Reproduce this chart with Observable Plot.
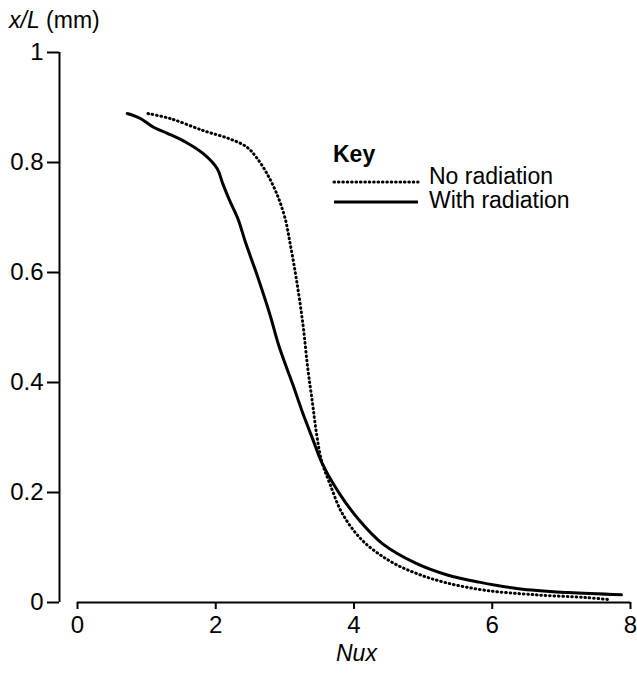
<!DOCTYPE html>
<html><head><meta charset="utf-8">
<script src="https://cdn.jsdelivr.net/npm/d3@7"></script>
<script src="https://cdn.jsdelivr.net/npm/@observablehq/plot@0.6"></script>
<style>
body{margin:0;background:#fff;font-family:"Liberation Sans",Arial,Helvetica,sans-serif;}
#wrap{position:relative;width:637px;height:674px;}
.t{position:absolute;color:#000;font-size:23px;white-space:nowrap;line-height:1;}
</style></head><body>
<div id="wrap"></div>
<script>
// "No radiation" (dotted)
const noRadNux = [1.02, 1.34, 1.82, 2.20, 2.45, 2.59, 2.74, 2.88, 3.00, 3.08, 3.17, 3.26, 3.33, 3.40, 3.46, 3.53, 3.65, 3.83, 4.12, 4.51, 4.90, 5.33, 5.91, 6.63, 7.35, 7.72];
const noRadXL  = [0.889, 0.880, 0.858, 0.843, 0.828, 0.809, 0.780, 0.744, 0.700, 0.650, 0.585, 0.507, 0.427, 0.362, 0.305, 0.258, 0.216, 0.162, 0.113, 0.076, 0.053, 0.036, 0.022, 0.014, 0.009, 0.005];
// "With radiation" (solid)
const withRadNux = [0.72, 0.91, 1.10, 1.30, 1.58, 1.82, 2.02, 2.10, 2.20, 2.32, 2.43, 2.59, 2.78, 2.92, 3.11, 3.26, 3.40, 3.54, 3.79, 4.08, 4.41, 4.90, 5.35, 5.81, 6.38, 7.10, 7.87];
const withRadXL  = [0.889, 0.880, 0.864, 0.853, 0.836, 0.816, 0.789, 0.762, 0.731, 0.698, 0.655, 0.598, 0.525, 0.464, 0.398, 0.344, 0.298, 0.253, 0.198, 0.149, 0.107, 0.071, 0.050, 0.037, 0.025, 0.018, 0.014];

const xTicks = [0, 2, 4, 6, 8];
const yTicks = [0, 0.2, 0.4, 0.6, 0.8, 1];
const yTickLabels = ["0", "0.2", "0.4", "0.6", "0.8", "1"];
const seriesNames = ["No radiation", "With radiation"];

const noRad = noRadNux.map((v, i) => ({nux: v, xl: noRadXL[i]}));
const withRad = withRadNux.map((v, i) => ({nux: v, xl: withRadXL[i]}));

const plot = Plot.plot({
  width: 637, height: 674,
  marginLeft: 59, marginRight: 7, marginTop: 52, marginBottom: 72,
  style: {fontFamily: "'Liberation Sans', Arial, sans-serif", fontSize: "24px", color: "#000", background: "#fff"},
  x: {domain: [0, 8], insetLeft: 18},
  y: {domain: [0, 1]},
  marks: [
    Plot.ruleX([0], {y1: 0, y2: 1, dx: -18, stroke: "#000", strokeWidth: 2}),
    Plot.ruleY([0], {x1: 0, x2: 8, stroke: "#000", strokeWidth: 2}),
    Plot.axisY(yTicks, {tickSize: 12, tickPadding: 4, strokeWidth: 2, tickFormat: (d) => yTickLabels[yTicks.indexOf(d)], label: null, fontSize: 24}),
    Plot.axisX(xTicks, {tickSize: 7, tickPadding: 6, strokeWidth: 2, label: null, fontSize: 24}),
    Plot.line(noRad, {x: "nux", y: "xl", stroke: "#000", strokeWidth: 3, strokeDasharray: "0.6,3.8", strokeLinecap: "round", curve: "catmull-rom"}),
    Plot.line(withRad, {x: "nux", y: "xl", stroke: "#000", strokeWidth: 3, curve: "catmull-rom"})
  ]
});
const wrap = document.getElementById("wrap");
wrap.appendChild(plot);

function addText(html, left, top) {
  const d = document.createElement("div");
  d.className = "t";
  d.innerHTML = html;
  d.style.left = left + "px";
  d.style.top = top + "px";
  wrap.appendChild(d);
  return d;
}
addText("<i>x/L</i> (mm)", 9, 9);
addText("<i>Nux</i>", 336, 642);
addText("<b>Key</b>", 333, 143);
addText(seriesNames[0], 429, 165);
addText(seriesNames[1], 429, 189);
function addLine(top, dash, w) {
  const s = document.createElementNS("http://www.w3.org/2000/svg", "svg");
  s.setAttribute("width", 88); s.setAttribute("height", 6);
  s.style.position = "absolute"; s.style.left = "332px"; s.style.top = (top - 3) + "px";
  const l = document.createElementNS("http://www.w3.org/2000/svg", "line");
  l.setAttribute("x1", 2); l.setAttribute("x2", 86); l.setAttribute("y1", 3); l.setAttribute("y2", 3);
  l.setAttribute("stroke", "#000"); l.setAttribute("stroke-width", w);
  if (dash) { l.setAttribute("stroke-dasharray", dash); l.setAttribute("stroke-linecap", "round"); }
  s.appendChild(l);
  wrap.appendChild(s);
}
addLine(182, "0.6,3.8", 3);
addLine(202, null, 3);
</script>
</body></html>
